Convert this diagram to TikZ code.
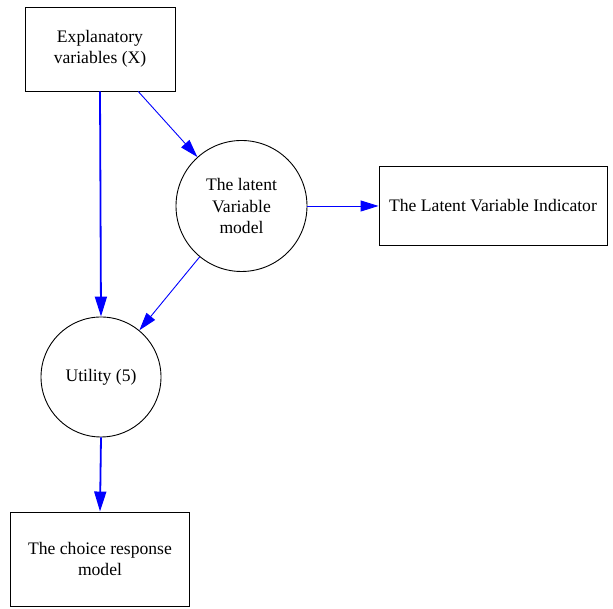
\documentclass[tikz,border=0pt]{standalone}
\usepackage{fontspec}
\setmainfont{Liberation Serif}
\usetikzlibrary{arrows.meta}
\begin{document}
\begin{tikzpicture}[x=1pt,y=1pt,font=\fontsize{17.6}{21.5}\selectfont,
		hop/.style={draw,rectangle,align=center,inner sep=0pt,line width=0.9pt},
		tron/.style={draw,circle,align=center,inner sep=0pt,line width=0.9pt},
		muiten/.style={blue,line width=0.9pt,-{Triangle[length=18pt,width=11pt]}},
		muitenday/.style={muiten,line width=1.8pt,-{Triangle[length=20pt,width=12pt]}}]
	\useasboundingbox (0,0) rectangle (613,609);
	\node[hop,minimum width=150,minimum height=84] (bien) at (100,560) {Explanatory\\variables (X)};
	\node[tron,minimum size=131] (an) at (241.5,403) {The latent\\Variable\\model};
	\node[hop,minimum width=228,minimum height=79] (chiso) at (493,403) {The Latent Variable Indicator};
	\node[tron,minimum size=120] (ich) at (101,232) {Utility (5)};
	\node[hop,minimum width=179,minimum height=94] (chon) at (100,50) {The choice response\\model};
	\draw[muitenday] (bien.south) -- (ich.north);
	\draw[muiten] (bien) -- (an);
	\draw[muiten] (an) -- (chiso);
	\draw[muiten] (an) -- (ich);
	\draw[muitenday] (ich.south) -- (chon.north);
\end{tikzpicture}
\end{document}
